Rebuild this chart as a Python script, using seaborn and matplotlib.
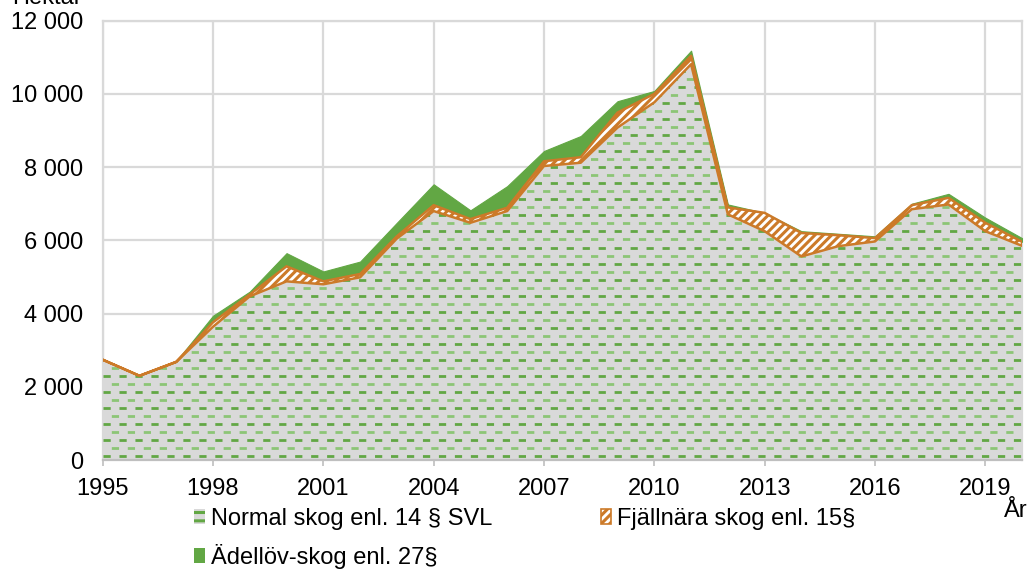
import matplotlib
matplotlib.use('Agg')
import matplotlib.pyplot as plt
from matplotlib.patches import Patch
from matplotlib.ticker import FuncFormatter
import numpy as np
import seaborn as sns

# Hektar per year
years = list(range(1995, 2021))
normal_skog = [2740, 2300, 2680, 3640, 4470, 4880, 4800, 4990, 6050, 6800,
               6480, 6800, 8030, 8120, 9080, 9770, 10810, 6710, 6250, 5560,
               5840, 5970, 6850, 6980, 6250, 5850]
fjallnara_skog = [0, 0, 0, 120, 50, 410, 80, 90, 60, 160,
                  100, 90, 130, 150, 410, 230, 230, 190, 500, 640,
                  300, 90, 110, 180, 230, 110]
adellov_skog = [0, 20, 20, 180, 80, 360, 270, 340, 370, 570,
                240, 590, 280, 580, 310, 80, 140, 80, 0, 50,
                40, 50, 40, 110, 140, 100]
xtick_years = list(range(1995, 2020, 3))
yticks = list(range(0, 12001, 2000))

labels = ['Normal skog enl. 14 § SVL', 'Fjällnära skog enl. 15§', 'Ädellöv-skog enl. 27§']

GRAY = '#d9d9d9'
GREEN = '#62a744'
LIGHT_GREEN = '#8cc576'
ORANGE = '#cc7a29'
FS = 17

sns.set_theme(style='whitegrid')
plt.rcParams['font.family'] = ['Liberation Sans', 'DejaVu Sans']
plt.rcParams['text.color'] = 'black'
plt.rcParams['hatch.linewidth'] = 2.2
plt.rcParams['lines.scale_dashes'] = False

fig = plt.figure(figsize=(10.35, 5.74), dpi=100)
ax = fig.add_axes([0.0992, 0.1986, 0.8883, 0.7654])

x = np.array(years)
normal = np.array(normal_skog)
fjall_top = normal + np.array(fjallnara_skog)
total = fjall_top + np.array(adellov_skog)

# Normal skog: grey fill with dashed green rows clipped to the area
poly = ax.fill_between(x, 0, normal, facecolor=GRAY, edgecolor='none', lw=0, zorder=2)
clip = poly.get_paths()[0]
row_step = 219
for i, yy in enumerate(np.arange(110, 12000, row_step)):
    col = GREEN if i % 2 == 0 else LIGHT_GREEN
    off = 0 if i % 2 == 0 else 5.5
    ln, = ax.plot([1995, 2020], [yy, yy], color=col, lw=2.0,
                  linestyle=(off, (5.2, 6.3)), zorder=3, solid_capstyle='butt')
    ln.set_clip_path(clip, ax.transData)

# Ädellöv-skog: solid green on top
ax.fill_between(x, fjall_top, total, facecolor=GREEN, edgecolor=GREEN, lw=0.8, zorder=4)

# Fjällnära skog: white with orange diagonal hatch and orange outline
ax.fill_between(x, normal, fjall_top, facecolor='white', edgecolor=ORANGE,
                hatch='////', lw=1.8, zorder=5)

ax.set_xlim(1995, 2020)
ax.set_ylim(0, 12000)
ax.set_xticks(xtick_years)
ax.set_yticks(yticks)
ax.yaxis.set_major_formatter(FuncFormatter(lambda v, p: f'{int(v):,}'.replace(',', ' ')))

ax.grid(True, color=GRAY, lw=1.6)
ax.set_axisbelow(True)
for s in ax.spines.values():
    s.set_visible(True)
    s.set_color(GRAY)
    s.set_linewidth(1.6)
ax.spines['bottom'].set_color('#bfbfbf')

ax.tick_params(axis='x', which='major', bottom=True, length=4, width=1.2,
               color='#bfbfbf', labelsize=FS, labelcolor='black', pad=9)
ax.tick_params(axis='y', left=False, length=0, labelsize=FS, labelcolor='black', pad=14)

fig.text(1004 / 1035, 1 - 511 / 574, 'År', fontsize=FS, ha='left', va='center')
fig.text(0.012, 1 - 4 / 574, 'Hektar', fontsize=FS, ha='left', va='baseline')

handles = [
    Patch(facecolor=GRAY, edgecolor=GREEN, hatch='--', lw=0),
    Patch(facecolor=GREEN, edgecolor=GREEN, lw=0),
    Patch(facecolor='white', edgecolor=ORANGE, hatch='////', lw=1.2),
]
leg_labels = [labels[0], labels[2], labels[1]]
fig.legend(handles, leg_labels, ncol=2, loc='upper left',
           bbox_to_anchor=(194 / 1035, 1 - 508 / 574), frameon=False, fontsize=FS,
           labelcolor='black', handlelength=0.45, handleheight=0.6, handletextpad=0.25,
           columnspacing=4.6, labelspacing=0.6, borderaxespad=0, borderpad=0)

fig.savefig('out.png', dpi=100)
